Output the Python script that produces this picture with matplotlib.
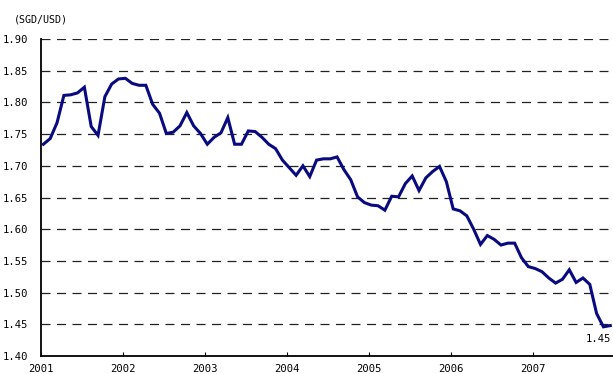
"""SGD/USD monthly exchange rate, 2001-2007."""

import numpy as np
import matplotlib
matplotlib.use("Agg")
import matplotlib.pyplot as plt

# ── Data ──────────────────────────────────────────────────────────────────────
YEARS = ["2001", "2002", "2003", "2004", "2005", "2006", "2007"]

RATE_2001 = [1.734, 1.743, 1.768, 1.811, 1.812, 1.815, 1.824, 1.762, 1.748, 1.809, 1.829, 1.837]
RATE_2002 = [1.838, 1.830, 1.827, 1.827, 1.797, 1.783, 1.751, 1.753, 1.763, 1.784, 1.763, 1.751]
RATE_2003 = [1.734, 1.745, 1.752, 1.776, 1.734, 1.734, 1.755, 1.754, 1.745, 1.734, 1.727, 1.709]
RATE_2004 = [1.697, 1.685, 1.700, 1.683, 1.709, 1.711, 1.711, 1.714, 1.694, 1.678, 1.651, 1.642]
RATE_2005 = [1.638, 1.637, 1.630, 1.652, 1.651, 1.672, 1.684, 1.661, 1.681, 1.691, 1.699, 1.675]
RATE_2006 = [1.632, 1.629, 1.621, 1.600, 1.576, 1.590, 1.584, 1.575, 1.578, 1.578, 1.555, 1.541]
RATE_2007 = [1.538, 1.533, 1.523, 1.515, 1.521, 1.536, 1.516, 1.523, 1.513, 1.467, 1.446, 1.448]

Y_TICKS = [1.40, 1.45, 1.50, 1.55, 1.60, 1.65, 1.70, 1.75, 1.80, 1.85, 1.90]

# ── Style ─────────────────────────────────────────────────────────────────────
LINE_COLOR = "#0A0A80"
FONT = ["DejaVu Sans Mono"]

rates = np.array(RATE_2001 + RATE_2002 + RATE_2003 + RATE_2004
                 + RATE_2005 + RATE_2006 + RATE_2007)
months = np.arange(len(rates)) + 0.35

fig = plt.figure(figsize=(6.13, 3.74), dpi=100, facecolor="white")
ax = fig.add_axes([41 / 613, 18 / 374, 1 - 41 / 613, (356 - 39) / 374])

ax.plot(months, rates, color=LINE_COLOR, linewidth=2.2, solid_joinstyle="miter", zorder=3)

# ── Axes ──────────────────────────────────────────────────────────────────────
ax.set_xlim(0, 83.75)
ax.set_ylim(1.40, 1.90)

ax.set_yticks(Y_TICKS)
ax.set_yticklabels([f"{v:.2f}" for v in Y_TICKS], fontsize=7.6, family=FONT)
ax.tick_params(axis="y", length=0, pad=9)

ax.set_xticks(np.arange(len(YEARS)) * 12)
ax.set_xticklabels(YEARS, fontsize=7.6, family=FONT)
ax.tick_params(axis="x", direction="in", length=3, width=0.8, pad=5.5)

for v in Y_TICKS[1:]:
    ax.axhline(v, color="#222222", linewidth=0.9, linestyle=(0, (7.2, 5.2)), zorder=1)

for side in ("top", "right"):
    ax.spines[side].set_visible(False)
for side in ("left", "bottom"):
    ax.spines[side].set_linewidth(1.3)
    ax.spines[side].set_color("black")

# ── Labels ────────────────────────────────────────────────────────────────────
ax.annotate(f"{rates[-1]:.2f}", xy=(months[-1], rates[-1]), xytext=(1, -6),
            textcoords="offset points", ha="right", va="top",
            fontsize=7.6, family=FONT)

fig.text(14 / 613, 1 - 20 / 374, "(SGD/USD)", fontsize=7.2, family=FONT,
         ha="left", va="center")

fig.savefig("out.png", dpi=100, facecolor="white")
plt.close(fig)
